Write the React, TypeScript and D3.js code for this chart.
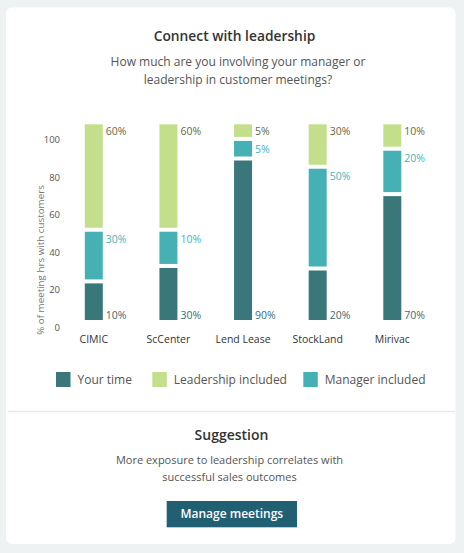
import React from "react";
import * as d3 from "d3";

const categories = ["CIMIC", "ScCenter", "Lend Lease", "StockLand", "Mirivac"];
// visual segment heights (share of bar)
const yourTime = [18.7, 26.6, 81.5, 25.3, 63.3];
const manager = [26.4, 18.5, 10, 52, 23.2];
const leadership = [54.9, 54.9, 8.5, 22.7, 13.5];
// printed labels
const yourTimeLabels = ["10%", "30%", "90%", "20%", "70%"];
const managerLabels = ["30%", "10%", "5%", "50%", "20%"];
const leadershipLabels = ["60%", "60%", "5%", "30%", "10%"];
const yTicks = [0, 20, 40, 60, 80, 100];

const COLORS = {
  your: "#3a777b",
  manager: "#46b1b4",
  leader: "#c3df8c",
};

const FONT = "'Open Sans', 'Noto Sans', sans-serif";

export default function App() {
  const W = 464, H = 553;
  const x = d3.scalePoint<string>().domain(categories).range([93.8, 392.3]);
  const yAxis = d3.scaleLinear().domain([0, 100]).range([327.7, 140]);
  const yBar = d3.scaleLinear().domain([0, 100]).range([320, 124.3]);
  const barW = 18;
  const gap = 4;

  const series = [
    { key: "your", vals: yourTime, labels: yourTimeLabels, color: COLORS.your, labelColor: "#3d6a6e" },
    { key: "manager", vals: manager, labels: managerLabels, color: COLORS.manager, labelColor: "#45b4b7" },
    { key: "leader", vals: leadership, labels: leadershipLabels, color: COLORS.leader, labelColor: "#66693f" },
  ];

  const bars: React.ReactNode[] = [];
  categories.forEach((c, ci) => {
    let cum = 0;
    const cx = x(c)!;
    series.forEach((s, si) => {
      const v = s.vals[ci];
      const yTop = yBar(cum + v);
      const yBottom = yBar(cum) - (si > 0 ? gap : 0);
      bars.push(
        <rect key={`${c}-${s.key}`} x={cx - barW / 2} y={yTop} width={barW} height={Math.max(0, yBottom - yTop)} fill={s.color} />
      );
      const ly = si === 0 ? yBottom - 5 : si === 1 ? yTop + 8 : yTop + 7;
      bars.push(
        <text key={`${c}-${s.key}-l`} x={cx + barW / 2 + 3} y={ly} dy="0.35em" fontSize={10.5} fill={s.labelColor} fontFamily={FONT}>
          {s.labels[ci]}
        </text>
      );
      cum += v;
    });
  });

  const legend = [
    { label: "Your time", color: COLORS.your, x: 56 },
    { label: "Leadership included", color: COLORS.leader, x: 152.3 },
    { label: "Manager included", color: COLORS.manager, x: 303.3 },
  ];

  return (
    <>
      <style>{`body{margin:0;}`}</style>
      <svg width={W} height={H} style={{ display: "block" }} fontFamily={FONT}>
        <rect x={0} y={0} width={W} height={H} fill="#eef2f3" />
        <rect x={6} y={7.5} width={449.5} height={536.5} rx={6} fill="#ffffff" />
        <line x1={8} x2={455} y1={411.5} y2={411.5} stroke="#e5e9ea" strokeWidth={1.5} />

        <text x={234.5} y={36} dy="0.35em" textAnchor="middle" fontSize={13.8} fontWeight={600} fill="#333">
          Connect with leadership
        </text>
        <text x={238} y={61.7} dy="0.35em" textAnchor="middle" fontSize={12} fill="#555">
          How much are you involving your manager or
        </text>
        <text x={238} y={79.3} dy="0.35em" textAnchor="middle" fontSize={12} fill="#555">
          leadership in customer meetings?
        </text>

        {yTicks.map((t) => (
          <text key={t} x={60} y={yAxis(t)} dy="0.35em" textAnchor="end" fontSize={9.5} fill="#555">
            {t}
          </text>
        ))}
        <text transform={`translate(40.5,260) rotate(-90)`} textAnchor="middle" dy="0.35em" fontSize={9.8} fill="#777">
          % of meeting hrs with customers
        </text>

        {bars}

        {categories.map((c) => (
          <text key={c} x={x(c)!} y={339} dy="0.35em" textAnchor="middle" fontSize={10.5} fontWeight={500} fill="#333">
            {c}
          </text>
        ))}

        {legend.map((l) => (
          <g key={l.label}>
            <rect x={l.x} y={372} width={14.5} height={15} fill={l.color} />
            <text x={l.x + 21.5} y={379.3} dy="0.35em" fontSize={12} fill="#555">
              {l.label}
            </text>
          </g>
        ))}

        <text x={231.5} y={434.7} dy="0.35em" textAnchor="middle" fontSize={14} fontWeight={600} fill="#333">
          Suggestion
        </text>
        <text x={229.5} y={460} dy="0.35em" textAnchor="middle" fontSize={11} fill="#555">
          More exposure to leadership correlates with
        </text>
        <text x={229.5} y={477.3} dy="0.35em" textAnchor="middle" fontSize={11} fill="#555">
          successful sales outcomes
        </text>

        <rect x={166.7} y={501} width={130.3} height={26.3} fill="#215f73" />
        <text x={231.8} y={514} dy="0.35em" textAnchor="middle" fontSize={12} fontWeight={600} fill="#ffffff">
          Manage meetings
        </text>
      </svg>
    </>
  );
}
